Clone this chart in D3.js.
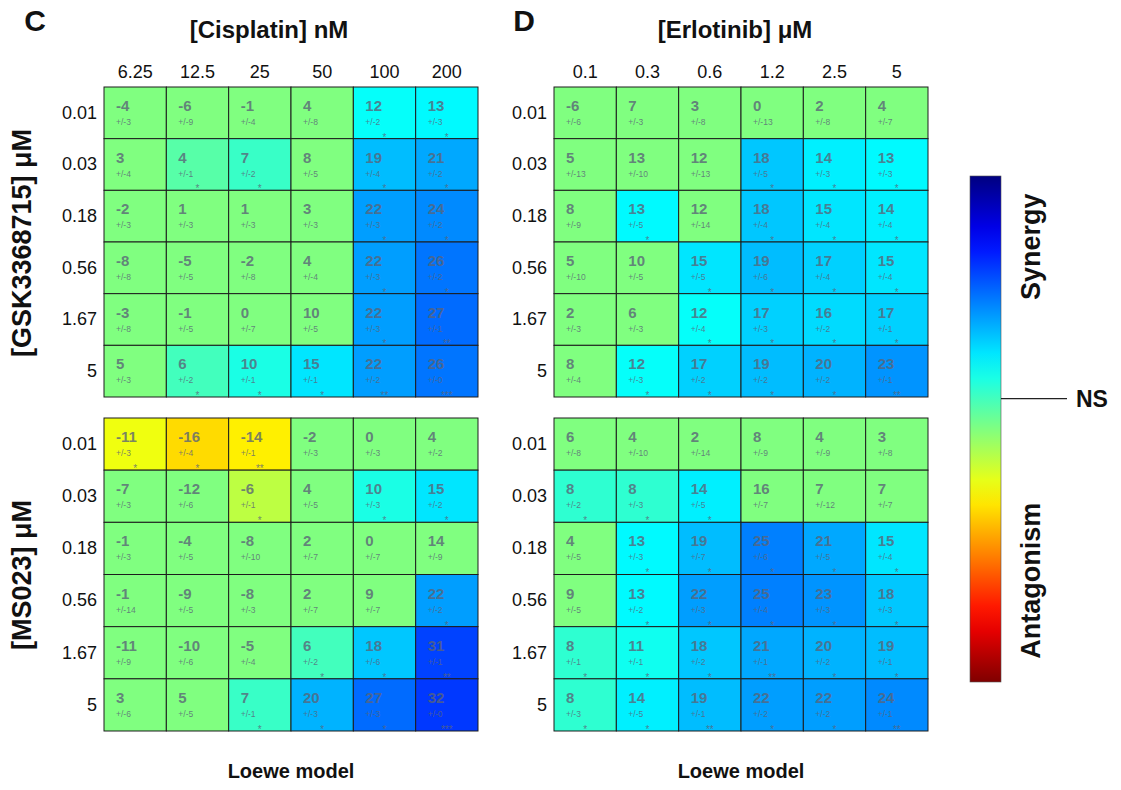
<!DOCTYPE html>
<html>
<head>
<meta charset="utf-8">
<script src="https://cdn.jsdelivr.net/npm/d3@7"></script>
<style>
  body { margin: 0; background: #fff; }
  svg text { font-family: "Liberation Sans", Arial, sans-serif; }
</style>
</head>
<body>
<div id="container"></div>
<script>
/* CONSTANTS AND GLOBALS */
const width = 1121,
  height = 790;

// doses
const rowDoses = ["0.01", "0.03", "0.18", "0.56", "1.67", "5"];
const cisplatinDoses = ["6.25", "12.5", "25", "50", "100", "200"];
const erlotinibDoses = ["0.1", "0.3", "0.6", "1.2", "2.5", "5"];

// Loewe synergy scores (rows = inhibitor dose, cols = drug dose)
const gskCisValues = [
  [-4, -6, -1, 4, 12, 13],
  [3, 4, 7, 8, 19, 21],
  [-2, 1, 1, 3, 22, 24],
  [-8, -5, -2, 4, 22, 26],
  [-3, -1, 0, 10, 22, 27],
  [5, 6, 10, 15, 22, 26]
];
const gskCisErrors = [
  [3, 9, 4, 8, 2, 3],
  [4, 1, 2, 5, 4, 2],
  [3, 3, 3, 3, 3, 2],
  [8, 5, 8, 4, 3, 2],
  [8, 5, 7, 5, 3, 1],
  [3, 2, 1, 1, 2, 0]
];
const gskCisStars = [
  ["", "", "", "", "*", "*"],
  ["", "*", "*", "", "*", "*"],
  ["", "", "", "", "*", "*"],
  ["", "", "", "", "*", "*"],
  ["", "", "", "", "*", "**"],
  ["", "*", "*", "*", "**", "***"]
];

const msCisValues = [
  [-11, -16, -14, -2, 0, 4],
  [-7, -12, -6, 4, 10, 15],
  [-1, -4, -8, 2, 0, 14],
  [-1, -9, -8, 2, 9, 22],
  [-11, -10, -5, 6, 18, 31],
  [3, 5, 7, 20, 27, 32]
];
const msCisErrors = [
  [3, 4, 1, 3, 3, 2],
  [3, 6, 1, 5, 3, 2],
  [3, 5, 10, 7, 7, 9],
  [14, 5, 3, 7, 7, 2],
  [9, 6, 4, 2, 6, 1],
  [6, 5, 1, 3, 3, 0]
];
const msCisStars = [
  ["*", "*", "**", "", "", ""],
  ["", "", "*", "", "*", "*"],
  ["", "", "", "", "", ""],
  ["", "", "", "", "", "*"],
  ["", "", "", "*", "*", "**"],
  ["", "", "*", "*", "*", "***"]
];

const gskErlValues = [
  [-6, 7, 3, 0, 2, 4],
  [5, 13, 12, 18, 14, 13],
  [8, 13, 12, 18, 15, 14],
  [5, 10, 15, 19, 17, 15],
  [2, 6, 12, 17, 16, 17],
  [8, 12, 17, 19, 20, 23]
];
const gskErlErrors = [
  [6, 3, 8, 13, 8, 7],
  [13, 10, 13, 5, 3, 3],
  [9, 5, 14, 4, 4, 4],
  [10, 5, 5, 6, 4, 4],
  [3, 3, 4, 3, 2, 1],
  [4, 3, 2, 2, 2, 1]
];
const gskErlStars = [
  ["", "", "", "", "", ""],
  ["", "", "", "*", "*", "*"],
  ["", "*", "", "*", "*", "*"],
  ["", "", "*", "*", "*", "*"],
  ["", "", "*", "*", "*", "*"],
  ["", "*", "*", "*", "*", "**"]
];

const msErlValues = [
  [6, 4, 2, 8, 4, 3],
  [8, 8, 14, 16, 7, 7],
  [4, 13, 19, 25, 21, 15],
  [9, 13, 22, 25, 23, 18],
  [8, 11, 18, 21, 20, 19],
  [8, 14, 19, 22, 22, 24]
];
const msErlErrors = [
  [8, 10, 14, 9, 9, 8],
  [2, 3, 5, 7, 12, 7],
  [5, 3, 7, 6, 5, 4],
  [5, 2, 3, 4, 3, 3],
  [1, 1, 2, 1, 2, 1],
  [3, 5, 1, 2, 2, 1]
];
const msErlStars = [
  ["", "", "", "", "", ""],
  ["*", "*", "*", "", "", ""],
  ["", "*", "*", "*", "*", "*"],
  ["", "*", "*", "*", "*", "*"],
  ["*", "*", "*", "**", "*", "*"],
  ["*", "*", "**", "*", "*", "**"]
];

// level where the NS mark sits on the colour bar
const nsLevel = 6;

// jet colormap (t = 0 dark blue ... t = 1 dark red)
function jet(t) {
  const c = v => Math.round(255 * Math.max(0, Math.min(1, v)));
  return d3.rgb(
    c(1.5 - Math.abs(4 * t - 3)),
    c(1.5 - Math.abs(4 * t - 2)),
    c(1.5 - Math.abs(4 * t - 1))
  ).formatHex();
}

// synergy (positive) -> blue, antagonism (negative) -> red
const colorScale = d3.scaleSequential(jet).domain([50, -50]);

const svg = d3.select("#container")
  .append("svg")
  .attr("width", width)
  .attr("height", height);

/* PANELS */
function drawPanel(opts) {
  const { values, errors, stars, cols, x0, y0, w, h, showCols } = opts;
  const cells = [];
  values.forEach((row, i) => row.forEach((v, j) => cells.push({
    r: rowDoses[i], c: cols[j], v: v, e: errors[i][j], s: stars[i][j]
  })));

  const xScale = d3.scaleBand().domain(cols).range([x0, x0 + w]);
  const yScale = d3.scaleBand().domain(rowDoses).range([y0, y0 + h]);

  const g = svg.append("g");

  const cell = g.selectAll("g.cell")
    .data(cells)
    .join("g")
    .attr("class", "cell")
    .attr("transform", d => `translate(${xScale(d.c)},${yScale(d.r)})`);

  // non significant cells stay at the neutral colour
  cell.append("rect")
    .attr("width", xScale.bandwidth())
    .attr("height", yScale.bandwidth())
    .attr("fill", d => d.s ? colorScale(d.v) : colorScale(0))
    .attr("stroke", "#1c1c1c")
    .attr("stroke-width", 1);

  cell.append("text")
    .attr("x", 12)
    .attr("y", 24)
    .attr("font-size", 15)
    .attr("font-weight", "bold")
    .attr("fill", "#5a6478")
    .attr("fill-opacity", 0.8)
    .text(d => d.v);

  cell.append("text")
    .attr("x", 12)
    .attr("y", 38)
    .attr("font-size", 8.5)
    .attr("fill", "#5a6478")
    .attr("fill-opacity", 0.8)
    .text(d => "+/-" + d.e);

  cell.append("text")
    .attr("x", xScale.bandwidth() / 2)
    .attr("y", yScale.bandwidth() + 2)
    .attr("text-anchor", "middle")
    .attr("font-size", 10)
    .attr("fill", "#5a6478")
    .attr("fill-opacity", 0.8)
    .text(d => d.s);

  // row labels (axis without lines)
  const yAxis = g.append("g")
    .attr("transform", `translate(${x0 - 3},0)`)
    .call(d3.axisLeft(yScale).tickSize(0).tickPadding(4));
  yAxis.select(".domain").remove();
  yAxis.selectAll("text")
    .attr("font-size", 18)
    .attr("fill", "#111")
    .style("font-family", "Liberation Sans, Arial, sans-serif");

  if (showCols) {
    const xAxis = g.append("g")
      .attr("transform", `translate(0,${y0 - 5})`)
      .call(d3.axisTop(xScale).tickSize(0).tickPadding(4));
    xAxis.select(".domain").remove();
    xAxis.selectAll("text")
      .attr("font-size", 18)
      .attr("fill", "#111")
      .style("font-family", "Liberation Sans, Arial, sans-serif");
  }
}

const gridW = 374;
drawPanel({ values: gskCisValues, errors: gskCisErrors, stars: gskCisStars, cols: cisplatinDoses,
  x0: 104, y0: 87, w: gridW, h: 310, showCols: true });
drawPanel({ values: msCisValues, errors: msCisErrors, stars: msCisStars, cols: cisplatinDoses,
  x0: 104, y0: 418, w: gridW, h: 313, showCols: false });
drawPanel({ values: gskErlValues, errors: gskErlErrors, stars: gskErlStars, cols: erlotinibDoses,
  x0: 554, y0: 87, w: gridW, h: 310, showCols: true });
drawPanel({ values: msErlValues, errors: msErlErrors, stars: msErlStars, cols: erlotinibDoses,
  x0: 554, y0: 418, w: gridW, h: 313, showCols: false });

/* TITLES */
const bold = (x, y, size, txt, rot) => svg.append("text")
  .attr("transform", `translate(${x},${y})` + (rot ? " rotate(-90)" : ""))
  .attr("text-anchor", "middle")
  .attr("font-size", size)
  .attr("font-weight", "bold")
  .attr("fill", "#111")
  .text(txt);

bold(35, 31, 30, "C");
bold(524, 31, 30, "D");
bold(269, 38, 24, "[Cisplatin] nM");
bold(735, 38, 24, "[Erlotinib] μM");
bold(31, 243, 27, "[GSK3368715] μM", true);
bold(31, 575, 27, "[MS023] μM", true);
bold(291, 778, 20, "Loewe model");
bold(741, 778, 20, "Loewe model");

/* COLOUR BAR */
const barX = 970, barW = 31;
const barScale = d3.scaleLinear().domain([50, -50]).range([176, 682]);

const grad = svg.append("defs").append("linearGradient")
  .attr("id", "jetGrad")
  .attr("x1", 0).attr("x2", 0).attr("y1", 0).attr("y2", 1);
grad.selectAll("stop")
  .data(d3.range(0, 1.0001, 0.05))
  .join("stop")
  .attr("offset", d => d)
  .attr("stop-color", d => jet(d));

svg.append("rect")
  .attr("x", barX)
  .attr("y", barScale(50))
  .attr("width", barW)
  .attr("height", barScale(-50) - barScale(50))
  .attr("fill", "url(#jetGrad)")
  .attr("stroke", "#555")
  .attr("stroke-width", 0.6);

svg.append("line")
  .attr("x1", barX + barW)
  .attr("x2", 1067)
  .attr("y1", barScale(nsLevel))
  .attr("y2", barScale(nsLevel))
  .attr("stroke", "#222")
  .attr("stroke-width", 1.2);

svg.append("text")
  .attr("x", 1076)
  .attr("y", barScale(nsLevel) + 8)
  .attr("font-size", 23)
  .attr("font-weight", "bold")
  .attr("fill", "#111")
  .text("NS");

bold(1040, barScale(36), 27, "Synergy", true);
bold(1040, barScale(-30), 27, "Antagonism", true);
</script>
</body>
</html>
